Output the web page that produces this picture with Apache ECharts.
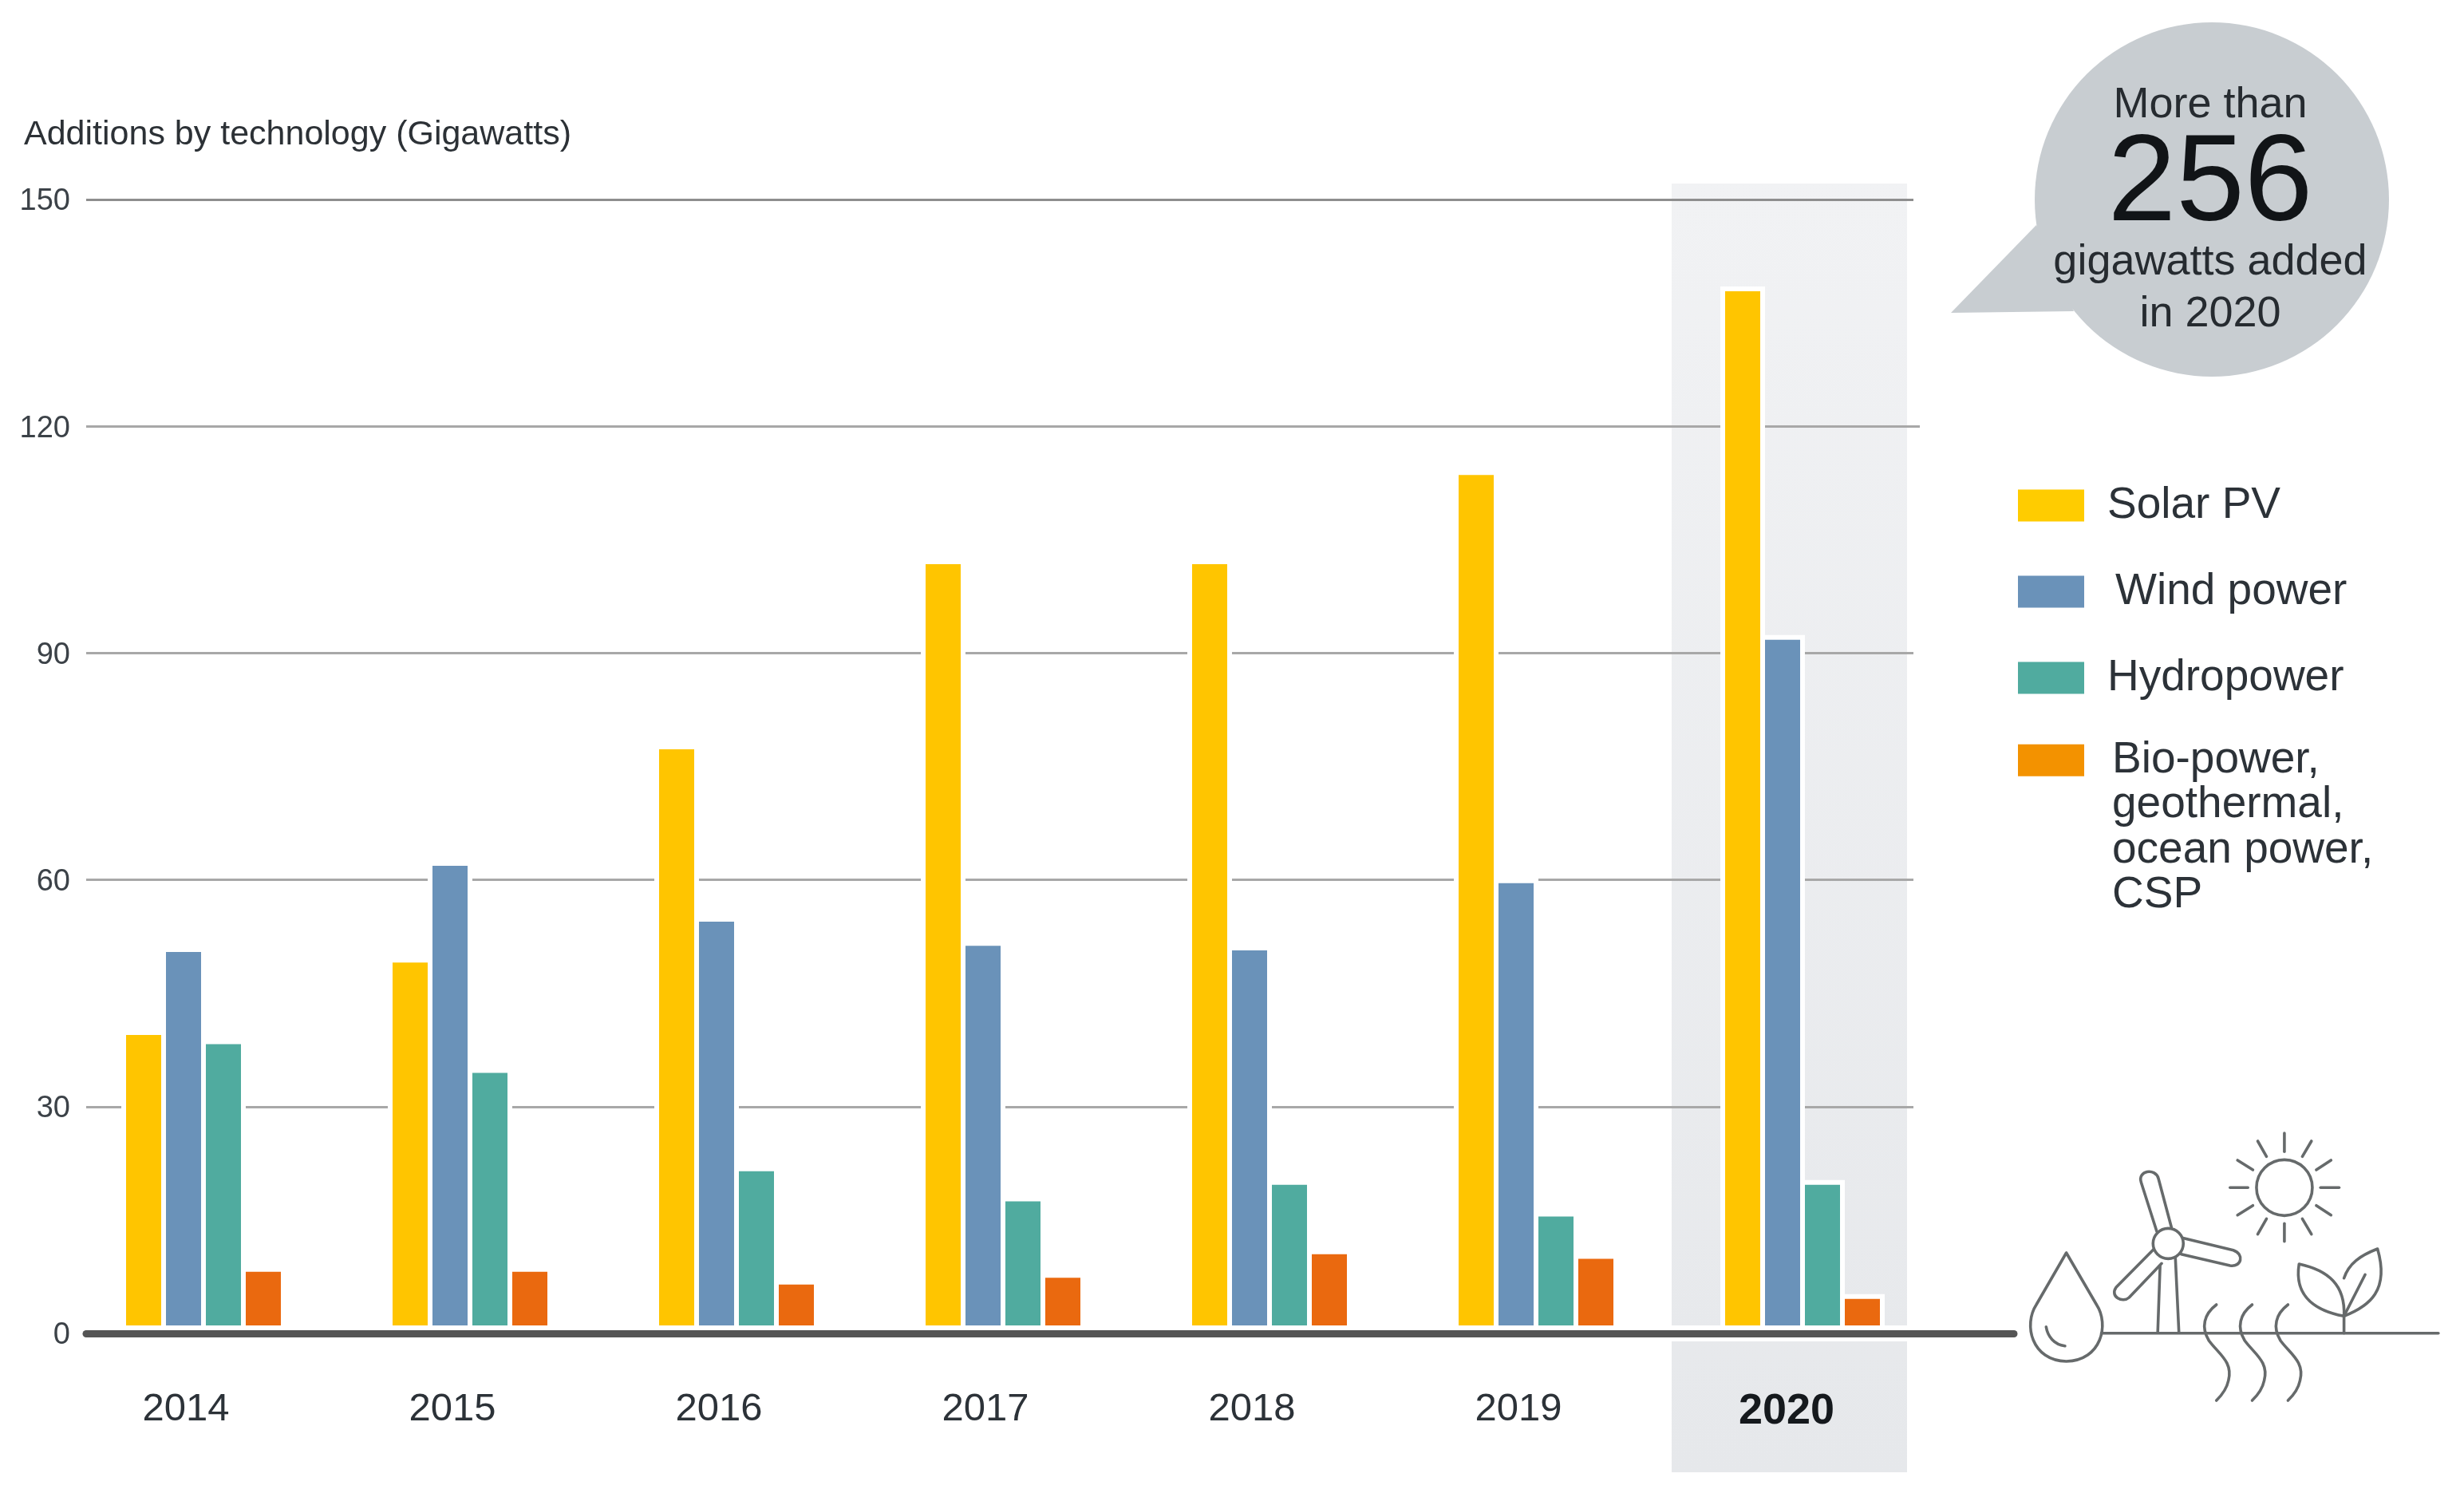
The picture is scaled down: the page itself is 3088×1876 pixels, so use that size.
<!DOCTYPE html>
<html>
<head>
<meta charset="utf-8">
<style>html,body{margin:0;padding:0;background:#fff}#c{width:3088px;height:1876px}</style>
<script src="https://cdn.jsdelivr.net/npm/echarts@6/dist/echarts.min.js"></script>
</head>
<body>
<div id="c"></div>
<script>
const years = ['2014','2015','2016','2017','2018','2019','2020'];
const seriesNames = ['Solar PV','Wind power','Hydropower','Bio-power,\ngeothermal,\nocean power,\nCSP'];
const solar = [40.1, 49.7, 77.9, 102.4, 102.4, 114.2, 138.5];
const wind = [51.1, 62.5, 55.1, 51.9, 51.3, 60.2, 92.4];
const hydro = [38.9, 35.1, 22.1, 18.1, 20.3, 16.1, 20.3];
const bio = [8.8, 8.8, 7.1, 8, 11.1, 10.5, 5.2];
const yTicks = [30, 60, 90, 120, 150];
const barColors = ['#FFC500', '#6A92B9', '#50AB9F', '#EA690F'];
const legendColors = ['#FFCC00', '#6A92B9', '#50AB9F', '#F39200'];

const FONT = '"Liberation Sans", Arial, sans-serif';
const chart = echarts.init(document.getElementById('c'), null, {width: 3088, height: 1876});

let shapeCount = 0;
function pathType(d) {
  const name = 'sketchPath' + (shapeCount++);
  echarts.graphic.registerShape(name, echarts.graphic.extendPath(d, {}));
  return name;
}

// Decorative icon: drawn in a local sketch space, mapped onto the page.
const ix = x => 2448 + 0.408 * x, iy = y => 1380 + y / 3;
const mapPath = p => p.replace(/(-?\d+(?:\.\d+)?) (-?\d+(?:\.\d+)?)/g, (m, a, b) => ix(+a).toFixed(1) + ' ' + iy(+b).toFixed(1));
const iconStyle = {stroke: '#666a6b', lineWidth: 3.6, fill: null, lineCap: 'round', lineJoin: 'round'};
const iconPaths = [
  'M347 570 L255 765 C215 840 240 975 347 978 C455 975 480 840 440 765 Z',
  'M285 848 C290 885 310 915 343 920',
  'M625 490 L577 305 C565 260 620 250 630 290 L670 475',
  'M708 515 L860 560 C895 575 885 625 850 618 L700 575',
  'M615 557 L500 700 C480 735 520 760 540 738 L640 610',
  'M635 620 L628 868', 'M682 590 L693 868',
  'M1017 120 L1017 190', 'M1017 460 L1017 527', 'M850 325 L905 325', 'M1128 325 L1185 325',
  'M935 150 L962 208', 'M1100 150 L1072 208', 'M873 222 L920 258', 'M1160 222 L1115 258',
  'M873 428 L920 392', 'M1160 428 L1115 392', 'M935 500 L962 442', 'M1100 500 L1072 442',
  'M1062 612 C1150 635 1205 690 1200 808 C1120 790 1045 740 1062 612 Z',
  'M1200 808 C1280 770 1340 710 1303 555 C1250 580 1215 610 1200 665',
  'M1200 808 L1265 652', 'M1200 808 L1200 872',
  'M808 765 C770 800 760 850 785 900 C815 950 860 980 845 1050 C840 1080 825 1105 808 1125',
  'M918 765 C880 800 870 850 895 900 C925 950 970 980 955 1050 C950 1080 935 1105 918 1125',
  'M1028 765 C990 800 980 850 1005 900 C1035 950 1080 980 1065 1050 C1060 1080 1045 1105 1028 1125',
  'M455 872 L1490 872'
];
const iconEls = iconPaths.map(p => ({type: pathType(mapPath(p)), style: iconStyle, z: 20, silent: true}));
iconEls.push({type: 'circle', shape: {cx: ix(1017), cy: iy(325), r: 35}, style: iconStyle, z: 20, silent: true});
iconEls.push({type: 'circle', shape: {cx: ix(660), cy: iy(535), r: 19}, style: {...iconStyle, fill: '#fff'}, z: 21, silent: true});

const bubbleFill = '#c8cdd1';
const bubbleText = (t, y, size, fill) => ({type: 'text', x: 2770, y, z: 22, silent: true,
  style: {text: t, fill: fill || '#262b30', font: `${size}px ${FONT}`, textAlign: 'center', textVerticalAlign: 'middle'}});

const gridLines = yTicks.map(v => [
  {x: 108, yAxis: v, lineStyle: {color: v === 150 ? '#8e8e8e' : '#a8a8a8', width: 3, type: 'solid'}},
  {x: v === 120 ? 2406 : 2398, yAxis: v}
]);
const baseLines = [
  [{x: 88, yAxis: 0, lineStyle: {color: '#ffffff', width: 20, type: 'solid'}}, {x: 2426, yAxis: 0}],
  [{x: 108, yAxis: 0, lineStyle: {color: '#555555', width: 9, type: 'solid', cap: 'round'}}, {x: 2524, yAxis: 0}]
];

const values = [solar, wind, hydro, bio];
const series = values.map((data, i) => {
  const s = {
    name: seriesNames[i], type: 'bar', data, barWidth: 56, barGap: '-10.71%',
    itemStyle: {color: barColors[i], borderColor: '#ffffff', borderWidth: 6},
    emphasis: {disabled: true}, z: 2
  };
  if (i === 0) s.markLine = {silent: true, symbol: 'none', z: 1, animation: false, label: {show: false}, data: gridLines};
  if (i === 3) s.markLine = {silent: true, symbol: 'none', z: 5, animation: false, label: {show: false}, data: baseLines};
  return s;
});

const legendText = {color: '#2c3238', fontFamily: FONT, fontSize: 55};
const legendBase = {orient: 'vertical', itemWidth: 83, itemHeight: 40, itemStyle: {borderWidth: 0}, selectedMode: false, textStyle: legendText, icon: 'rect'};

chart.setOption({
  animation: false,
  backgroundColor: '#ffffff',
  title: {text: 'Additions by technology (Gigawatts)', left: 25, top: 143,
    textStyle: {fontFamily: FONT, fontSize: 43, fontWeight: 'normal', color: '#2c3136'}},
  grid: {left: 88, top: 250, width: 2338, height: 1421, containLabel: false},
  legend: [
    {...legendBase, left: 2524, top: 601, itemGap: 53,
      data: [
        {name: seriesNames[0], itemStyle: {color: legendColors[0]}, textStyle: {...legendText, padding: [0, 0, 0, 24]}},
        {name: seriesNames[1], itemStyle: {color: legendColors[1]}, textStyle: {...legendText, padding: [0, 0, 0, 34]}},
        {name: seriesNames[2], itemStyle: {color: legendColors[2]}, textStyle: {...legendText, padding: [0, 0, 0, 24]}}
      ]},
    {...legendBase, left: 2524, top: 750,
      formatter: n => '\n\n\n' + n,
      data: [
        {name: seriesNames[3], itemStyle: {color: legendColors[3]}, textStyle: {...legendText, lineHeight: 56.5, padding: [0, 0, 0, 30]}}
      ]}
  ],
  xAxis: {
    type: 'category',
    data: years.map(y => y === '2020'
      ? {value: y, textStyle: {fontWeight: 'bold', fontSize: 54, color: '#15191d', padding: [0, 40, 0, 0]}}
      : {value: y}),
    axisLine: {show: false}, axisTick: {show: false}, splitLine: {show: false},
    axisLabel: {fontFamily: FONT, fontSize: 49, color: '#2c3238', margin: 71, padding: [0, 44, 0, 0], interval: 0}
  },
  yAxis: {
    type: 'value', min: 0, max: 150, interval: 30,
    axisLine: {show: false}, axisTick: {show: false}, splitLine: {show: false},
    axisLabel: {fontFamily: FONT, fontSize: 38, color: '#3c4248', margin: 0, verticalAlign: 'top', padding: [-16, 0, 0, 0]}
  },
  series,
  graphic: {elements: [
    {type: 'rect', shape: {x: 2095, y: 230, width: 295, height: 1615},
      style: {fill: new echarts.graphic.LinearGradient(0, 0, 0, 1, [{offset: 0, color: '#f1f2f4'}, {offset: 1, color: '#e6e8eb'}])},
      z: -1, silent: true},
    {type: pathType('M2552 282 L2445 392 L2599 390 Z'), style: {fill: bubbleFill}, z: 20, silent: true},
    {type: 'circle', shape: {cx: 2772, cy: 250, r: 222}, style: {fill: bubbleFill}, z: 20, silent: true},
    bubbleText('More than', 132, 54),
    bubbleText('256', 234, 154, '#111417'),
    bubbleText('gigawatts added', 329, 54),
    bubbleText('in 2020', 394, 54),
    ...iconEls
  ]}
});
</script>
</body>
</html>
